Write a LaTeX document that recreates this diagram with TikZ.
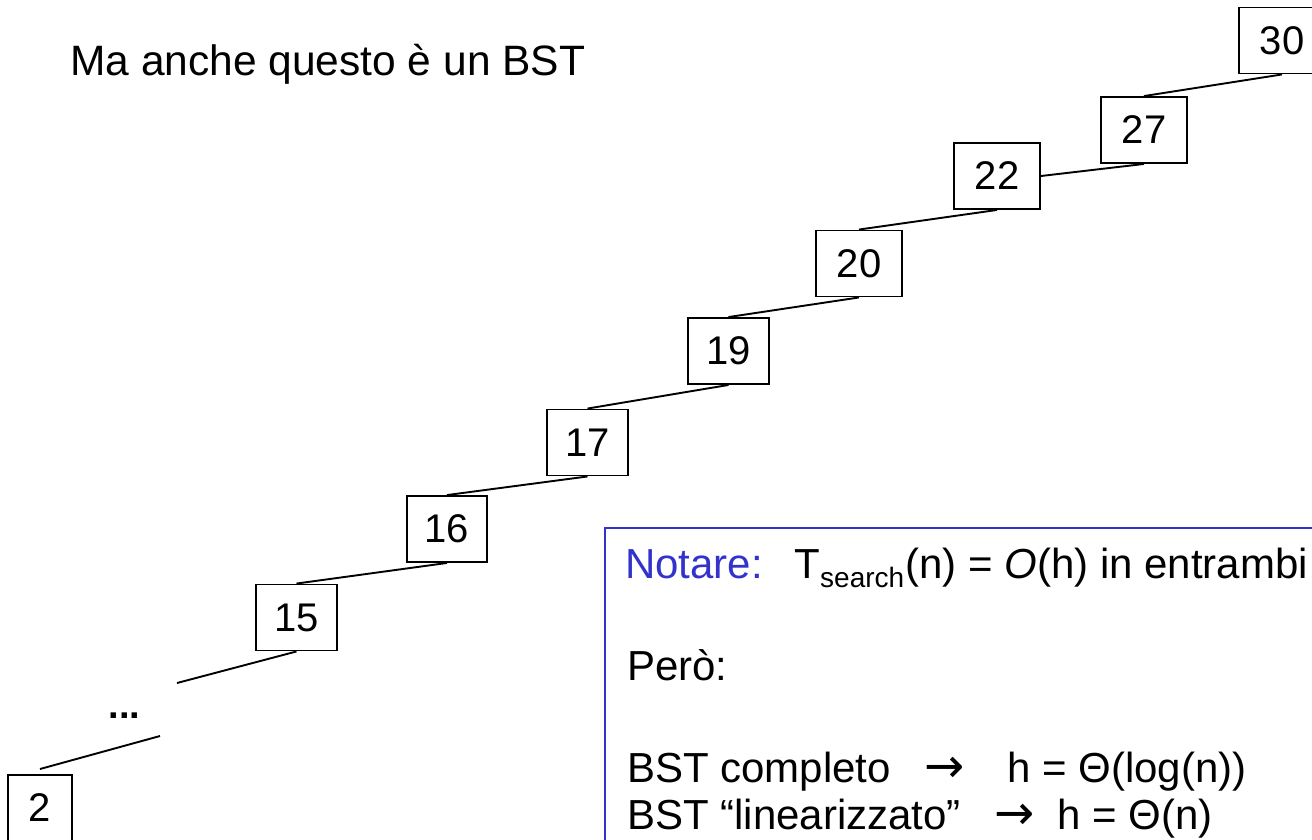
\documentclass[tikz,border=0pt]{standalone}
\usepackage{fontspec}
\setmainfont{Liberation Sans}
\newfontfamily\arrowfont{DejaVu Sans}
\definecolor{noteblue}{RGB}{51,51,204}
\tikzset{
  treebox/.style={draw, line width=1.9pt, minimum height=66pt, inner sep=0pt, font=\fontsize{40}{44}\selectfont},
  edge/.style={line width=1.9pt},
  txt/.style={inner sep=0pt, anchor=base west, font=\fontsize{42}{48}\selectfont},
  arrowtxt/.style={inner sep=0pt, anchor=base west, font={\arrowfont\fontsize{48}{52}\selectfont}},
}
\begin{document}
\begin{tikzpicture}[x=1pt,y=-1pt]
\useasboundingbox (0,0) rectangle (1312,839);
\clip (0,0) rectangle (1312,839);
\fill[white] (0,0) rectangle (1312,839);

% title
\node[txt, font=\fontsize{42.5}{50}\selectfont] (title) at (70,75) {Ma anche questo è un BST};

% tree nodes
\node[treebox, minimum width=86pt] (n30) at (1282,40.5) {30};
\node[treebox, minimum width=86pt] (n27) at (1144,130) {27};
\node[treebox, minimum width=86pt] (n22) at (997,176) {22};
\node[treebox, minimum width=86pt] (n20) at (859,263.5) {20};
\node[treebox, minimum width=81pt] (n19) at (728.5,351) {19};
\node[treebox, minimum width=81pt] (n17) at (587.5,442.5) {17};
\node[treebox, minimum width=80pt] (n16) at (447,529) {16};
\node[treebox, minimum width=81pt] (n15) at (296.5,617.5) {15};
\node[treebox, minimum width=64pt] (n2) at (40,808) {2};
\node[inner sep=0pt, font=\bfseries\fontsize{38}{40}\selectfont] (dots) at (124.5,716) {...};

\coordinate (e15) at (177,683);
\coordinate (s2) at (160,736);
\coordinate (e2) at (40,769);

% connectors
\draw[edge] (n30.south) -- (n27.north);
\draw[edge] (n27.south) -- (n22.east);
\draw[edge] (n22.south) -- (n20.north);
\draw[edge] (n20.south) -- (n19.north);
\draw[edge] (n19.south) -- (n17.north);
\draw[edge] (n17.south) -- (n16.north);
\draw[edge] (n16.south) -- (n15.north);
\draw[edge] (n15.south) -- (e15);
\draw[edge] (s2) -- (e2);

% note box
\node[draw=noteblue, line width=1.6pt, minimum width=740pt, minimum height=340pt, anchor=north west, inner sep=0pt] (note) at (604,527) {};

\node[txt, text=noteblue] (notare) at (625,578) {Notare:};
\node[txt] (tee) at (794,578) {T};
\node[txt, font=\fontsize{28}{30}\selectfont] (sub) at (820,587) {search};
\node[txt] (eq1) at (905,578) {(n) = \textit{O}(h) in entrambi i casi};
\node[txt] (pero) at (627,680) {Però:};
\node[txt] (l3a) at (627,782) {BST completo};
\node[arrowtxt] (ar1) at (924,782) {→};
\node[txt] (l3b) at (1007,782) {h = Θ(log(n))};
\node[txt] (l4a) at (627,829) {BST “linearizzato”};
\node[arrowtxt] (ar2) at (994,829) {→};
\node[txt] (l4b) at (1057,829) {h = Θ(n)};
\end{tikzpicture}
\end{document}
